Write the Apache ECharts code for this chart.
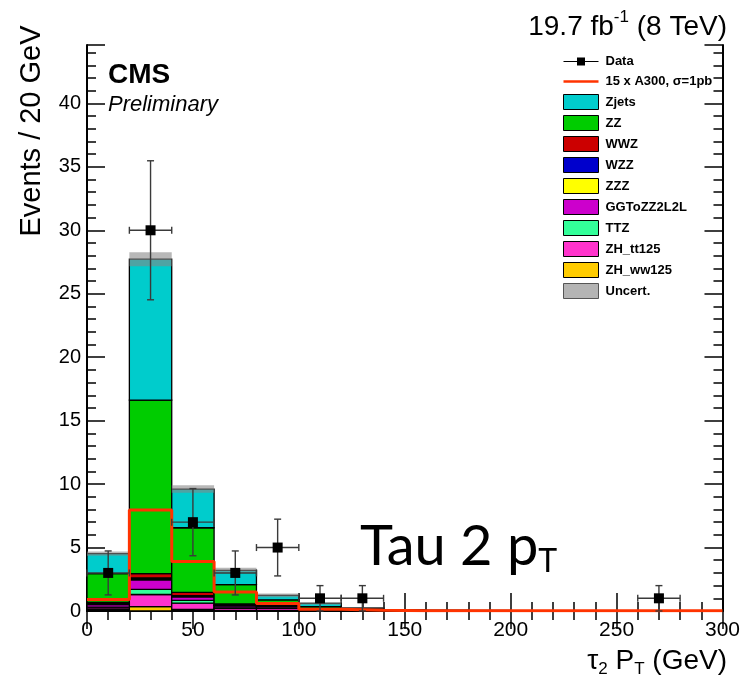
<!DOCTYPE html>
<html>
<head>
<meta charset="utf-8">
<script src="https://cdn.jsdelivr.net/npm/echarts@6/dist/echarts.min.js"></script>
<style>
  html, body { margin: 0; padding: 0; background: #fff; }
  #chart { width: 743px; height: 682px; }
</style>
</head>
<body>
<div id="chart"></div>
<script>
// Bin lower edges (GeV), 20 GeV wide bins
const binLow = [0, 20, 40, 60, 80, 100, 120, 140, 160, 180, 200, 220, 240, 260, 280];
const binWidth = 20;

// Background expectation per bin (events), stacked bottom to top
const zhww125 = [0.10, 0.35, 0.12, 0.05, 0.05, 0.02, 0.01, 0, 0, 0, 0, 0, 0, 0, 0];
const zhtt125 = [0.15, 0.95, 0.50, 0.15, 0.15, 0.04, 0.02, 0.01, 0, 0, 0, 0, 0, 0, 0];
const ttz     = [0.05, 0.40, 0.22, 0.05, 0.05, 0.02, 0.01, 0, 0, 0, 0, 0, 0, 0, 0];
const ggzz    = [0.20, 0.75, 0.27, 0.15, 0.12, 0.05, 0.03, 0.02, 0.02, 0.02, 0, 0, 0, 0, 0];
const zzz     = [0.02, 0.05, 0.05, 0.02, 0.02, 0.01, 0, 0, 0, 0, 0, 0, 0, 0, 0];
const wzz     = [0.05, 0.10, 0.05, 0.03, 0.03, 0.02, 0.01, 0, 0, 0, 0, 0, 0, 0, 0];
const wwz     = [0.10, 0.35, 0.25, 0.10, 0.08, 0.04, 0.02, 0.01, 0, 0, 0, 0, 0, 0, 0];
const zz      = [2.27, 13.67, 5.10, 1.53, 0.38, 0.15, 0.05, 0.04, 0.04, 0.03, 0.02, 0.02, 0.01, 0.01, 0.01];
const zjets   = [1.58, 11.10, 3.05, 1.12, 0.35, 0.25, 0.10, 0, 0, 0, 0, 0, 0, 0, 0];

// Total background uncertainty per bin
const uncert  = [0.17, 0.55, 0.30, 0.20, 0.15, 0.10, 0.05, 0, 0, 0, 0, 0, 0, 0, 0];

// Signal: 15 x A300 (sigma = 1 pb)
const signal  = [0.90, 7.95, 3.90, 1.50, 0.60, 0.14, 0.05, 0.02, 0.02, 0.01, 0.01, 0.01, 0.01, 0.01, 0.01];

// Observed events
const observed = [3, 30, 7, 3, 5, 1, 1, 0, 0, 0, 0, 0, 0, 1, 0];

// Axis ticks
const xTicks = [0, 50, 100, 150, 200, 250, 300];
const yTicks = [0, 5, 10, 15, 20, 25, 30, 35, 40];
const yMax = 44.6;

const stackDefs = [
  { name: 'ZH_ww125',   values: zhww125, color: '#ffcc00' },
  { name: 'ZH_tt125',   values: zhtt125, color: '#ff33cc' },
  { name: 'TTZ',        values: ttz,     color: '#33ff99' },
  { name: 'GGToZZ2L2L', values: ggzz,    color: '#cc00cc' },
  { name: 'ZZZ',        values: zzz,     color: '#ffff00' },
  { name: 'WZZ',        values: wzz,     color: '#0000cc' },
  { name: 'WWZ',        values: wwz,     color: '#cc0000' },
  { name: 'ZZ',         values: zz,      color: '#00cc00' },
  { name: 'Zjets',      values: zjets,   color: '#00cccc' }
];

const FONT = '"Liberation Sans", Arial, Helvetica, sans-serif';

// cumulative stacking
const cum = binLow.map(() => 0);
const stackSeries = stackDefs.map(def => {
  const rows = binLow.map((lo, i) => {
    const base = cum[i];
    cum[i] += def.values[i];
    return [lo, lo + binWidth, base, cum[i]];
  });
  return {
    type: 'custom',
    name: def.name,
    xAxisIndex: 0, yAxisIndex: 0,
    clip: true, z: 2,
    itemStyle: { color: def.color },
    renderItem: function (params, api) {
      const top = api.value(3), base = api.value(2);
      if (top - base <= 0) return null;
      const p0 = api.coord([api.value(0), base]);
      const p1 = api.coord([api.value(1), top]);
      return {
        type: 'rect',
        shape: { x: p0[0], y: p1[1], width: p1[0] - p0[0], height: p0[1] - p1[1] },
        style: { fill: def.color, stroke: '#000', lineWidth: 1.3 }
      };
    },
    data: rows
  };
});
const totals = cum.slice();

const uncertSeries = {
  type: 'custom',
  name: 'Uncert.',
  xAxisIndex: 0, yAxisIndex: 0,
  clip: true, z: 3,
  itemStyle: { color: '#b4b4b4' },
  renderItem: function (params, api) {
    const lo = api.value(2), hi = api.value(3);
    if (hi - lo <= 0) return null;
    const p0 = api.coord([api.value(0), lo]);
    const p1 = api.coord([api.value(1), hi]);
    return {
      type: 'rect',
      shape: { x: p0[0], y: p1[1], width: p1[0] - p0[0], height: p0[1] - p1[1] },
      style: { fill: 'rgba(134,134,134,0.59)' }
    };
  },
  data: binLow.map((lo, i) => [lo, lo + binWidth, totals[i] - uncert[i], totals[i] + uncert[i]])
};

const signalSeries = {
  type: 'line',
  name: '15 x A300, σ=1pb',
  xAxisIndex: 0, yAxisIndex: 0,
  step: 'end',
  symbol: 'none',
  z: 4,
  clip: true,
  color: '#ff3300',
  lineStyle: { color: '#ff3300', width: 3 },
  data: binLow.map((lo, i) => [lo, signal[i]]).concat([[binLow[binLow.length - 1] + binWidth, signal[signal.length - 1]]])
};

const dataSeries = {
  type: 'custom',
  name: 'Data',
  xAxisIndex: 0, yAxisIndex: 0,
  clip: false, z: 5,
  itemStyle: { color: '#000' },
  renderItem: function (params, api) {
    const x = api.value(0), y = api.value(1), e = api.value(2), hw = api.value(3);
    if (y <= 0) return null;
    const c = api.coord([x, y]);
    const top = api.coord([x, y + e]);
    const bot = api.coord([x, Math.max(0, y - e)]);
    const l = api.coord([x - hw, y]);
    const r = api.coord([x + hw, y]);
    const cap = 3.5;
    const ls = { stroke: '#3a3a3a', lineWidth: 1.4 };
    const ln = (x1, y1, x2, y2) => ({ type: 'line', shape: { x1, y1, x2, y2 }, style: ls });
    return {
      type: 'group',
      children: [
        ln(c[0], top[1], c[0], bot[1]),
        ln(c[0] - cap, top[1], c[0] + cap, top[1]),
        ln(c[0] - cap, bot[1], c[0] + cap, bot[1]),
        ln(l[0], c[1], r[0], c[1]),
        ln(l[0], c[1] - cap, l[0], c[1] + cap),
        ln(r[0], c[1] - cap, r[0], c[1] + cap),
        { type: 'rect', shape: { x: c[0] - 5, y: c[1] - 5, width: 10, height: 10 }, style: { fill: '#000' } }
      ]
    };
  },
  data: binLow.map((lo, i) => [lo + binWidth / 2, observed[i], Math.sqrt(observed[i]), binWidth / 2])
};

// text helpers: lay out a line of segments (normal / sup / sub) using canvas metrics
const measureCtx = document.createElement('canvas').getContext('2d');
function fontOf(seg) {
  return (seg.style || 'normal') + ' ' + (seg.weight || 'normal') + ' ' + seg.size + 'px ' + (seg.family || FONT);
}
function segWidth(seg) {
  measureCtx.font = fontOf(seg);
  return measureCtx.measureText(seg.text).width;
}
function textLine(x, y, segs, align) {
  const total = segs.reduce((s, g) => s + segWidth(g), 0);
  let cx = align === 'right' ? x - total : x;
  return segs.map(g => {
    const w = segWidth(g);
    const el = {
      type: 'text',
      x: cx, y: y + (g.dy || 0),
      style: {
        text: g.text,
        fill: '#000',
        font: fontOf(g),
        textAlign: 'left',
        textVerticalAlign: 'middle'
      },
      z: 10
    };
    cx += w;
    return el;
  });
}

const CAL = 'Lato, "Open Sans", sans-serif';
const graphics = [].concat(
  textLine(727, 27, [
    { text: '19.7 fb', size: 28 },
    { text: '-1', size: 17, dy: -10 },
    { text: ' (8 TeV)', size: 28 }
  ], 'right'),
  textLine(108, 75, [{ text: 'CMS', size: 28, weight: 'bold' }], 'left'),
  textLine(108, 105, [{ text: 'Preliminary', size: 22, style: 'italic' }], 'left'),
  textLine(360, 547, [
    { text: 'Tau 2 p', size: 56, family: CAL },
    { text: 'T', size: 32, dy: 15, family: CAL }
  ], 'left'),
  textLine(727, 661, [
    { text: 'τ', size: 28 },
    { text: '2', size: 17, dy: 8 },
    { text: ' P', size: 28 },
    { text: 'T', size: 17, dy: 8 },
    { text: ' (GeV)', size: 28 }
  ], 'right'),
  [{
    type: 'text',
    x: 32, y: 131,
    rotation: Math.PI / 2,
    style: {
      text: 'Events / 20 GeV',
      fill: '#000',
      font: 'normal normal 29px ' + FONT,
      textAlign: 'center',
      textVerticalAlign: 'middle'
    },
    z: 10
  }]
);

const axisLineStyle = { show: true, lineStyle: { color: '#000', width: 2 } };
const tickStyle = { color: '#000', width: 1.5 };

const chart = echarts.init(document.getElementById('chart'), null, { renderer: 'canvas' });
chart.setOption({
  backgroundColor: '#fff',
  animation: false,
  grid: { left: 87, right: 16, top: 45, bottom: 71, containLabel: false },
  xAxis: [
    {
      type: 'value', min: xTicks[0], max: xTicks[xTicks.length - 1], interval: 50,
      position: 'bottom',
      axisLine: axisLineStyle,
      axisTick: { show: true, inside: true, length: 18, lineStyle: tickStyle },
      minorTick: { show: true, splitNumber: 5, length: 9, lineStyle: tickStyle },
      axisLabel: { color: '#000', fontSize: 21, fontFamily: FONT, margin: 9 },
      splitLine: { show: false }
    },
    {
      type: 'value', min: xTicks[0], max: xTicks[xTicks.length - 1], interval: 50,
      position: 'top',
      axisLine: axisLineStyle,
      axisTick: { show: true, inside: true, length: 18, lineStyle: tickStyle },
      minorTick: { show: true, splitNumber: 5, length: 9, lineStyle: tickStyle },
      axisLabel: { show: false },
      splitLine: { show: false }
    }
  ],
  yAxis: [
    {
      type: 'value', min: 0, max: yMax, interval: 5,
      position: 'left',
      axisLine: axisLineStyle,
      axisTick: { show: true, inside: true, length: 18, lineStyle: tickStyle },
      axisLabel: {
        color: '#000', fontSize: 20, fontFamily: FONT, margin: 6,
        formatter: v => (yTicks.indexOf(v) >= 0 ? String(v) : '')
      },
      splitLine: { show: false }
    },
    {
      type: 'value', min: 0, max: yMax, interval: 1,
      position: 'left',
      axisLine: { show: false },
      axisTick: { show: true, inside: true, length: 9, lineStyle: tickStyle },
      axisLabel: { show: false },
      splitLine: { show: false }
    },
    {
      type: 'value', min: 0, max: yMax, interval: 5,
      position: 'right',
      axisLine: axisLineStyle,
      axisTick: { show: true, inside: true, length: 18, lineStyle: tickStyle },
      axisLabel: { show: false },
      splitLine: { show: false }
    },
    {
      type: 'value', min: 0, max: yMax, interval: 1,
      position: 'right',
      axisLine: { show: false },
      axisTick: { show: true, inside: true, length: 9, lineStyle: tickStyle },
      axisLabel: { show: false },
      splitLine: { show: false }
    }
  ],
  legend: {
    orient: 'vertical',
    left: 563, top: 54,
    padding: 0,
    itemWidth: 35, itemHeight: 15, itemGap: 5,
    selectedMode: false,
    textStyle: { color: '#000', fontSize: 13, fontWeight: 'bold', fontFamily: FONT, lineHeight: 15, padding: [0, 0, 0, 2] },
    data: [
      { name: 'Data', icon: 'path://M0,7L13.5,7L13.5,3.5L21.5,3.5L21.5,7L35,7L35,8L21.5,8L21.5,11.5L13.5,11.5L13.5,8L0,8Z',
        itemStyle: { color: '#000', borderWidth: 0 } },
      { name: '15 x A300, σ=1pb', icon: 'path://M0,0L35,0L35,2.5L0,2.5Z',
        itemStyle: { color: '#ff3300', borderWidth: 0 } }
    ].concat(stackDefs.slice().reverse().map(d => ({
      name: d.name, icon: 'rect',
      itemStyle: { color: d.color, borderColor: '#000', borderWidth: 1 }
    }))).concat([
      { name: 'Uncert.', icon: 'rect', itemStyle: { color: '#b4b4b4', borderColor: '#555', borderWidth: 1 } }
    ])
  },
  graphic: graphics,
  series: stackSeries.concat([uncertSeries, signalSeries, dataSeries])
});
</script>
</body>
</html>
